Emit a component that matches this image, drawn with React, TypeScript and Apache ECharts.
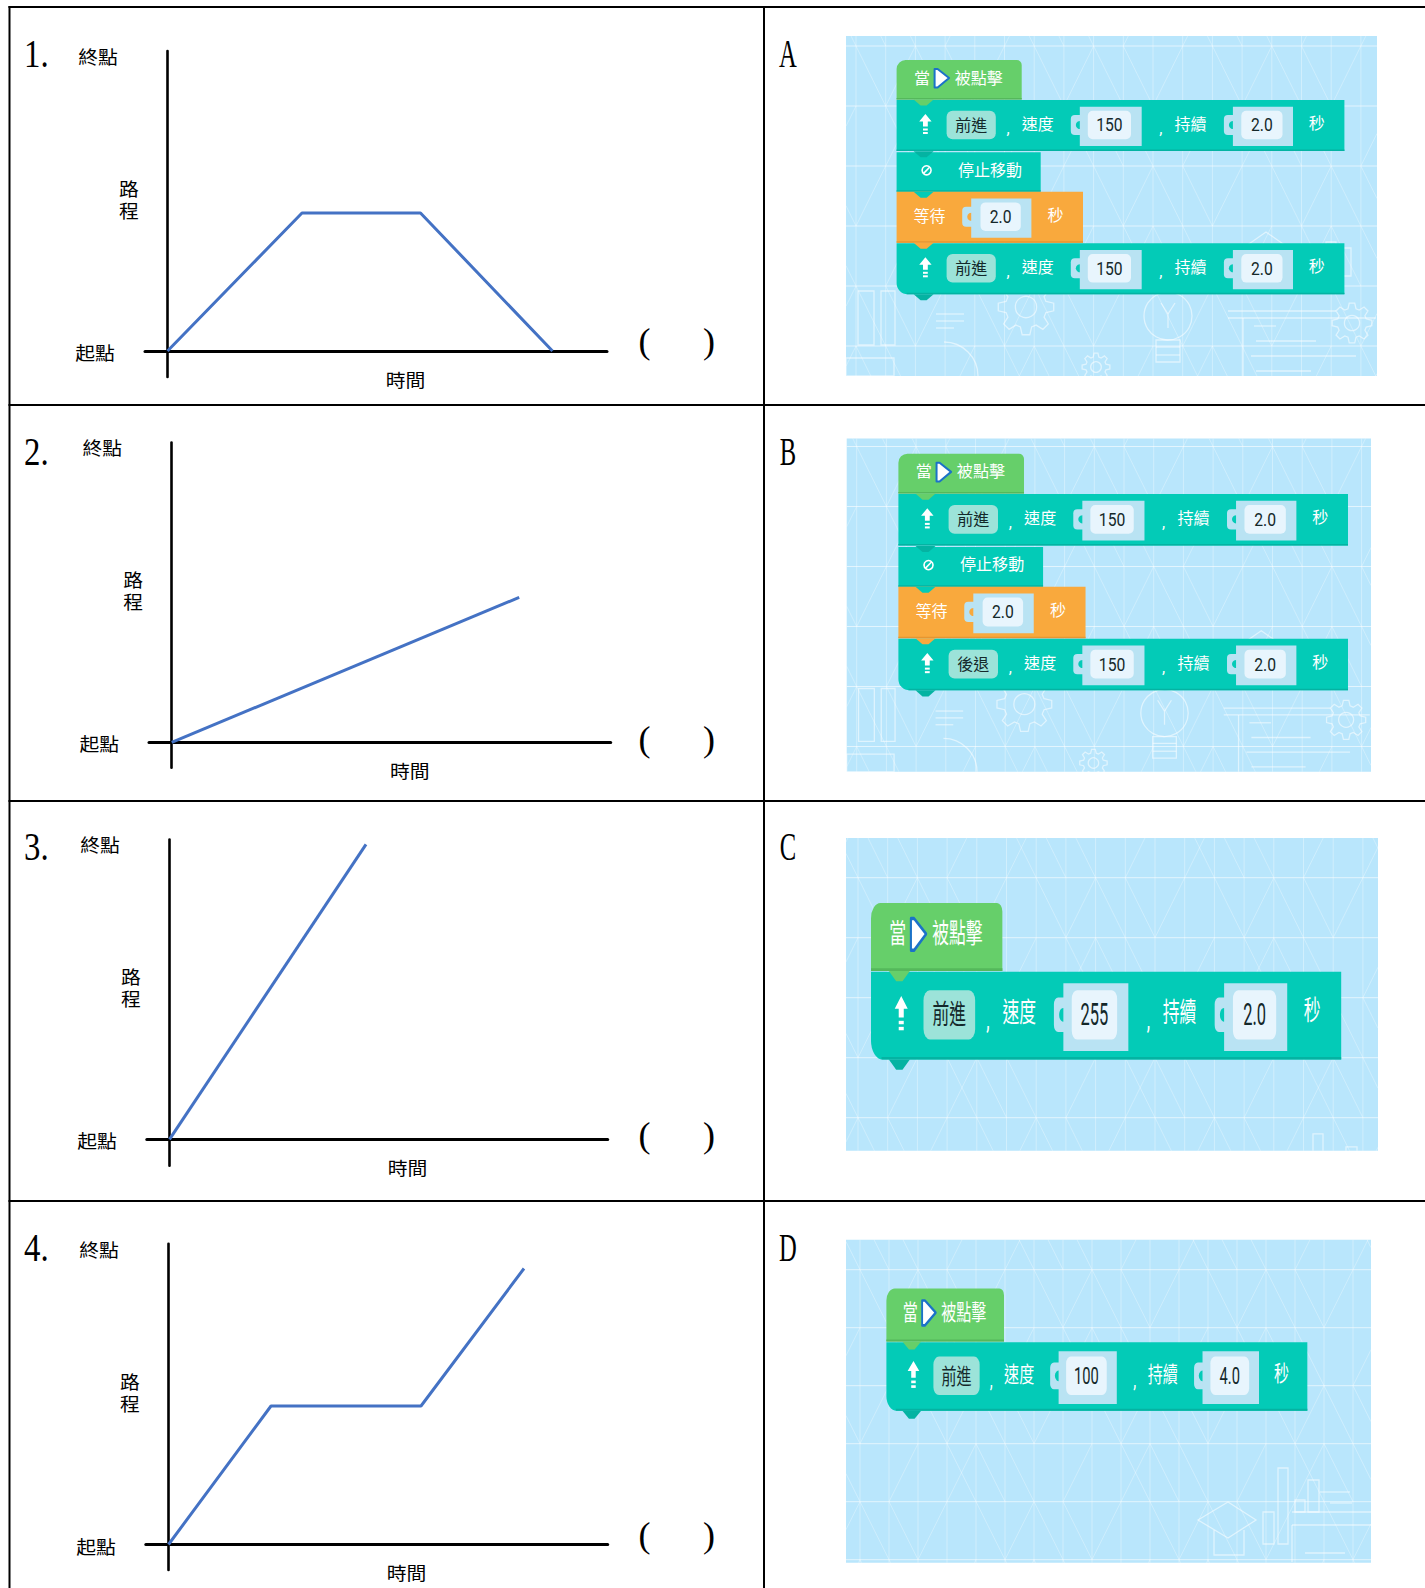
import React, { useEffect, useRef } from "react";
import * as echarts from "echarts";

// ---- data (time, distance in arbitrary units) ----
const trip1 = [[0, 0], [13.45, 13.8], [25.3, 13.8], [38.5, 0]];
const trip2 = [[0, 0], [34.75, 14.5]];
const trip3 = [[0, 0], [19.65, 29.5]];
const trip4 = [[0, 0], [10.25, 13.85], [25.25, 13.85], [35.55, 27.6]];
const trips = [trip1, trip2, trip3, trip4];
const numbers = ["1.", "2.", "3.", "4."];
const letters = ["A", "B", "C", "D"];
const startLabel = "起點";
const endLabel = "終點";
const timeLabel = "時間";
const distChars = ["路", "程"];

// page layout (px)
const W = 1425, H = 1588;
const plots = [
  { ox: 167.5, oy: 351, l: 145, r: 607, t: 51, b: 377, numY: 56, parenY: 343.5 },
  { ox: 171.7, oy: 742.4, l: 149, r: 610.7, t: 442.6, b: 767.7, numY: 454, parenY: 741.5 },
  { ox: 169.5, oy: 1139.4, l: 146.8, r: 607.7, t: 839.6, b: 1165.7, numY: 849, parenY: 1137.5 },
  { ox: 168.5, oy: 1544.5, l: 145.8, r: 607.7, t: 1243.7, b: 1570, numY: 1250, parenY: 1537.7 },
];
const PX = 10; // px per data unit
const CJK = '"Noto Sans CJK TC"';
const SERIF = '"Liberation Serif"';
const BLACK = "#000";
const TEAL = "#03cbb7", TEAL_D = "#04b3a2", GREEN = "#66cf6a", GREEN_D = "#55b85b", ORANGE = "#f9a93d", ORANGE_D = "#e59632";
const SLOT = "#b9e3f3", INNER = "#e8f5fd", TAG = "#9ce3d9", INK = "#14282a", BG = "#b9e6fc";

const txt = (text: string, x: number, y: number, o: any = {}) => {
  const font = o.font ?? CJK;
  const nudge = font === CJK ? -1.5 : font === SERIF ? -2.5 : 0;
  return {
    type: "text", x, y: y + nudge, silent: true,
    scaleX: o.sx ?? 1, scaleY: o.sy ?? 1,
    style: {
      text, fontSize: o.size ?? 16, fontFamily: font, fill: o.fill ?? "#000",
      align: o.align ?? "center", verticalAlign: "middle", fontWeight: o.weight ?? "normal",
    },
  };
};
const rect = (x: number, y: number, w: number, h: number, fill: string, r: any = 0) => ({
  type: "rect", silent: true, shape: { x, y, width: w, height: h, r }, style: { fill },
});
const poly = (points: number[][], fill: string) => ({ type: "polygon", silent: true, shape: { points }, style: { fill } });

// ---- block stacks, in a local frame, scaled per panel ----
const notch = (y: number, fill: string) => poly([[17, y], [24, y + 6], [30, y + 6], [37, y]], fill);
const slot = (y: number, x1: number, x2: number, ix1: number, ix2: number, val: string, host: string) => [
  rect(x1 - 9, y + 15, 10, 20, SLOT, [4, 0, 0, 4]),
  { type: "circle", silent: true, shape: { cx: x1, cy: y + 25, r: 4 }, style: { fill: host } },
  rect(x1, y + 6.7, x2 - x1, 39.3, SLOT),
  rect(ix1, y + 10.7, ix2 - ix1, 28.6, INNER, 5),
  txt(val, (ix1 + ix2) / 2, y + 25, { font: "Roboto", size: 18, sx: 0.87, fill: INK }),
];
const hat = () => [
  rect(0, 0, 125.1, 39.5, GREEN, [9, 5, 0, 0]),
  rect(0, 38, 125.1, 1.5, GREEN_D),
  txt("當", 25.4, 18, { fill: "#fff" }),
  {
    type: "polygon", silent: true,
    shape: { points: [[38, 9], [41, 9], [52.5, 18], [41, 27.5], [38, 27.5]] },
    style: { fill: "#fff", stroke: "#1b72c8", lineWidth: 2, lineJoin: "round" },
  },
  txt("被點擊", 82.2, 18, { fill: "#fff" }),
];
const moveRow = (y: number, action: string, speed: string, dur: string, last: boolean) => [
  rect(0, y, 447.8, 51, TEAL, last ? [0, 0, 0, 11] : 0),
  rect(last ? 10 : 0, y + 49.5, last ? 437.8 : 447.8, 1.5, TEAL_D),
  poly([[28.8, y + 14], [35, y + 21.5], [31.2, y + 21.5], [31.2, y + 26.5], [26.4, y + 26.5], [26.4, y + 21.5], [22.6, y + 21.5]], "#fff"),
  rect(26.4, y + 28.5, 4.8, 2, "#fff"),
  rect(26.4, y + 32, 4.8, 2, "#fff"),
  rect(50, y + 10.7, 49.2, 28.6, TAG, 6),
  txt(action, 74.6, y + 25, { fill: INK }),
  txt(",", 111.4, y + 28, { fill: "#fff", font: "Roboto", size: 16 }),
  txt("速度", 141.2, y + 24, { fill: "#fff" }),
  ...slot(y, 183.2, 245.1, 191.2, 234.4, speed, TEAL),
  txt(",", 264.2, y + 28, { fill: "#fff", font: "Roboto", size: 16 }),
  txt("持續", 293.9, y + 24, { fill: "#fff" }),
  ...slot(y, 336.3, 396.4, 344.7, 385.9, dur, TEAL),
  txt("秒", 420.2, y + 23, { fill: "#fff" }),
];
const stopRow = (y: number) => [
  rect(0, y, 144.1, 39.4, TEAL),
  rect(0, y + 38, 144.1, 1.4, TEAL_D),
  { type: "circle", silent: true, shape: { cx: 30, cy: y + 18, r: 4.5 }, style: { fill: "none", stroke: "#fff", lineWidth: 1.6 } },
  { type: "line", silent: true, shape: { x1: 26.8, y1: y + 21.3, x2: 33.2, y2: y + 14.7 }, style: { stroke: "#fff", lineWidth: 1.6 } },
  txt("停止移動", 93.3, y + 17.7, { fill: "#fff" }),
];
const waitRow = (y: number, dur: string) => [
  rect(0, y, 186.4, 51, ORANGE),
  rect(0, y + 49.5, 186.4, 1.5, ORANGE_D),
  txt("等待", 33, y + 24.3, { fill: "#fff" }),
  ...slot(y, 74.6, 134.8, 83.9, 124.2, dur, ORANGE),
  txt("秒", 159, y + 23.3, { fill: "#fff" }),
];
const longStack = (second: string) => [
  ...hat(),
  ...moveRow(40, "前進", "150", "2.0", false),
  ...stopRow(92.3),
  ...waitRow(131.7, "2.0"),
  ...moveRow(183.3, second, "150", "2.0", true),
  notch(39.5, GREEN), notch(91.3, TEAL_D), notch(131.7, TEAL), notch(182.7, ORANGE), notch(234.3, TEAL_D),
];
const shortStack = (speed: string, dur: string) => [
  ...hat(),
  ...moveRow(40, "前進", speed, dur, true),
  notch(39.5, GREEN), notch(91, TEAL_D),
];

// ---- background lattice ----
const clip = (b: any, x1: number, y1: number, x2: number, y2: number) => {
  let t0 = 0, t1 = 1;
  const dx = x2 - x1, dy = y2 - y1;
  const tests = [[-dx, x1 - b.x], [dx, b.x + b.w - x1], [-dy, y1 - b.y], [dy, b.y + b.h - y1]];
  for (const [p, q] of tests) {
    if (p === 0) { if (q < 0) return null; continue; }
    const r = q / p;
    if (p < 0) { if (r > t1) return null; t0 = Math.max(t0, r); }
    else { if (r < t0) return null; t1 = Math.min(t1, r); }
  }
  return { x1: x1 + t0 * dx, y1: y1 + t0 * dy, x2: x1 + t1 * dx, y2: y1 + t1 * dy };
};
const MOTIF = [
  ["x", "b", "b", "", "f", ""],
  ["b", "f", "", "b", "f", "b"],
];
const lattice = (b: any, stepX: number, stepY: number, offX: number, offY: number) => {
  const out: any[] = [];
  const seg = (x1: number, y1: number, x2: number, y2: number, op = 0.3) => {
    const s = clip(b, x1, y1, x2, y2);
    if (s) out.push({ type: "line", silent: true, shape: s, style: { stroke: "#fff", opacity: op, lineWidth: 1 } });
  };
  for (let x = b.x + offX; x < b.x + b.w; x += stepX) seg(x, b.y, x, b.y + b.h, 0.35);
  let band = 0;
  for (let y = b.y + offY - stepY; y < b.y + b.h; y += stepY, band++) {
    seg(b.x, y, b.x + b.w, y, 0.6);
    let col = 0;
    for (let x = b.x + offX - stepX; x < b.x + b.w; x += stepX, col++) {
      const m = MOTIF[band % 2][(col + band * 2) % 6];
      if (m === "b" || m === "x") seg(x, y, x + stepX, y + stepY);
      if (m === "f" || m === "x") seg(x, y + stepY, x + stepX, y);
    }
  }
  return out;
};
const OUT = { fill: "none", stroke: "#fff", opacity: 0.55, lineWidth: 1.3 };
const gear = (cx: number, cy: number, r: number) => {
  const pts: number[][] = [];
  const n = 8;
  for (let i = 0; i < n; i++) {
    const a = (i / n) * Math.PI * 2;
    const d = Math.PI / n / 2;
    [[-1.4, 0.74], [-0.7, 1], [0.7, 1], [1.4, 0.74]].forEach(([k, rr]) => {
      pts.push([cx + r * rr * Math.cos(a + k * d), cy + r * rr * Math.sin(a + k * d)]);
    });
  }
  return [
    { type: "polygon", silent: true, shape: { points: pts }, style: OUT },
    { type: "circle", silent: true, shape: { cx, cy, r: r * 0.38 }, style: OUT },
  ];
};
const box = (x: number, y: number, w: number, h: number) => ({ type: "rect", silent: true, shape: { x, y, width: w, height: h }, style: OUT });
const ln = (x1: number, y1: number, x2: number, y2: number) => ({ type: "line", silent: true, shape: { x1, y1, x2, y2 }, style: OUT });
// icons of panels A and B, relative to the panel's bottom-left corner
const techIcons = () => [
  ...gear(180, -69, 28), ...gear(250, -9, 14), ...gear(506, -53, 20),
  { type: "circle", silent: true, shape: { cx: 322, cy: -60, r: 24 }, style: OUT },
  box(310, -36, 24, 22), ln(310, -29, 334, -29), ln(310, -21, 334, -21),
  ln(315, -73, 322, -62), ln(329, -73, 322, -62), ln(322, -62, 322, -48),
  box(12, -85, 16, 54), box(35, -85, 14, 54), box(0, -18, 48, 18),
  ln(90, -62, 118, -62), ln(90, -55, 118, -55), ln(90, -48, 108, -48),
  ln(382, -65, 490, -65), ln(382, -58, 530, -58), ln(397, -58, 397, 0),
  ln(408, -50, 430, -50), ln(410, -35, 470, -35), ln(405, -20, 510, -20), ln(410, -5, 465, -5),
  { type: "arc", silent: true, shape: { cx: 98, cy: 0, r: 34, startAngle: -Math.PI / 2, endAngle: 0 }, style: OUT },
  box(480, -134, 10, 34), box(497, -128, 8, 28),
  { type: "polyline", silent: true, shape: { points: [[400, -130], [420, -144], [440, -130]] }, style: OUT },
];
const iconsC = (b: any) => [
  { type: "polyline", silent: true, shape: { points: [[b.x + 467, b.y + b.h], [b.x + 467, b.y + b.h - 17], [b.x + 477, b.y + b.h - 17], [b.x + 477, b.y + b.h]] }, style: OUT },
  { type: "polyline", silent: true, shape: { points: [[b.x + 500, b.y + b.h], [b.x + 500, b.y + b.h - 4], [b.x + 511, b.y + b.h - 4], [b.x + 511, b.y + b.h]] }, style: OUT },
];
const iconsD = () => [
  { type: "polygon", silent: true, shape: { points: [[1198, 1520], [1228, 1502], [1256, 1520], [1228, 1538]] }, style: OUT },
  { type: "polyline", silent: true, shape: { points: [[1214, 1530], [1214, 1555], [1244, 1555], [1244, 1530]] }, style: OUT },
  box(1263, 1512, 11, 32), box(1278, 1468, 10, 76), box(1295, 1500, 10, 12), box(1308, 1480, 11, 32),
  ln(1292, 1512, 1371, 1512), ln(1292, 1525, 1371, 1525), ln(1292, 1525, 1292, 1562),
  ln(1320, 1492, 1350, 1492), ln(1330, 1503, 1352, 1503), ln(1305, 1553, 1345, 1553),
];

const panels = [
  { b: { x: 846, y: 36, w: 531, h: 340 }, org: [896.6, 60], s: [1, 1], stack: () => longStack("前進"), icons: () => techIcons(), ix: 1, iy: 1, lat: [29.7, 60, 10, 10] },
  { b: { x: 846.7, y: 438.5, w: 524.3, h: 333.3 }, org: [898.4, 453.7], s: [1.004, 1.01], stack: () => longStack("後退"), icons: () => techIcons(), ix: 0.987, iy: 0.98, lat: [29.7, 60, 10, 8] },
  { b: { x: 846, y: 838, w: 532, h: 312.8 }, org: [871, 903], s: [1.05, 1.72], stack: () => shortStack("255", "2.0"), icons: null, ix: 1, iy: 1, lat: [29.7, 60, 12, 39.7] },
  { b: { x: 846, y: 1239.7, w: 525, h: 323.1 }, org: [886.4, 1288.4], s: [0.94, 1.345], stack: () => shortStack("100", "4.0"), icons: null, ix: 1, iy: 1, lat: [29, 58, 14, 30] },
];

function buildOption() {
  const grid: any[] = [], xAxis: any[] = [], yAxis: any[] = [], series: any[] = [];
  const graphic: any[] = [];

  plots.forEach((p, i) => {
    grid.push({ left: p.l, top: p.t, width: p.r - p.l, height: p.b - p.t, containLabel: false });
    const axisBase = {
      type: "value", gridIndex: i,
      axisTick: { show: false }, axisLabel: { show: false }, splitLine: { show: false },
    };
    xAxis.push({
      ...axisBase, min: (p.l - p.ox) / PX, max: (p.r - p.ox) / PX,
      axisLine: { show: true, onZero: true, lineStyle: { color: BLACK, width: 3 } },
    });
    yAxis.push({
      ...axisBase, min: (p.oy - p.b) / PX, max: (p.oy - p.t) / PX,
      axisLine: { show: true, onZero: true, lineStyle: { color: BLACK, width: 2.6 } },
    });
    series.push({
      type: "line", xAxisIndex: i, yAxisIndex: i, data: trips[i], symbol: "none", silent: true,
      lineStyle: { color: "#4472C4", width: 3 }, z: 3,
    });
    const lab = { size: 18, sx: 1.1 };
    graphic.push(txt(numbers[i], 24, p.numY, { font: SERIF, size: 41, sx: 0.8, align: "left" }));
    graphic.push(txt(endLabel, p.ox - 69.5, p.oy - 294, lab));
    graphic.push(txt(distChars[0], p.ox - 38.5, p.oy - 161.6, lab));
    graphic.push(txt(distChars[1], p.ox - 38.5, p.oy - 139.8, lab));
    graphic.push(txt(startLabel, p.ox - 72.5, p.oy + 2.5, lab));
    graphic.push(txt(timeLabel, p.ox + 238, p.oy + 29, lab));
    graphic.push(txt("(", 644.5, p.parenY, { font: SERIF, size: 36 }));
    graphic.push(txt(")", 709, p.parenY, { font: SERIF, size: 36 }));
    graphic.push(txt(letters[i], 788, p.numY, { font: SERIF, size: 41, sx: 0.6 }));
  });

  panels.forEach((pn, i) => {
    const b = pn.b;
    graphic.push(rect(b.x, b.y, b.w, b.h, BG));
    const [sx, sy, ox, oy] = pn.lat;
    graphic.push(...lattice(b, sx, sy, ox, oy));
    if (pn.icons) {
      graphic.push({ type: "group", x: b.x, y: b.y + b.h, scaleX: pn.ix, scaleY: pn.iy, silent: true, children: pn.icons() });
    } else if (i === 2) {
      graphic.push(...iconsC(b));
    } else {
      graphic.push(...iconsD());
    }
    graphic.push({ type: "group", x: pn.org[0], y: pn.org[1], scaleX: pn.s[0], scaleY: pn.s[1], silent: true, children: pn.stack() });
  });

  // table rules
  const rule = (x: number, y: number, w: number, h: number) => rect(x, y, w, h, BLACK);
  graphic.push(rule(8.5, 6, W - 8.5, 2));
  graphic.push(rule(8.5, 6, 2, H - 6));
  graphic.push(rule(763, 6, 2, H - 6));
  graphic.push(rule(8.5, 404, W - 8.5, 2));
  graphic.push(rule(8.5, 800, W - 8.5, 2));
  graphic.push(rule(8.5, 1200, W - 8.5, 2));

  return { animation: false, backgroundColor: "#fff", grid, xAxis, yAxis, series, graphic };
}

export default function App() {
  const ref = useRef<HTMLDivElement>(null);
  useEffect(() => {
    const chart = echarts.init(ref.current!, undefined, { renderer: "svg" });
    chart.setOption(buildOption() as any);
    return () => chart.dispose();
  }, []);
  return <div ref={ref} style={{ position: "absolute", left: 0, top: 0, width: W, height: H, overflow: "hidden" }} />;
}
